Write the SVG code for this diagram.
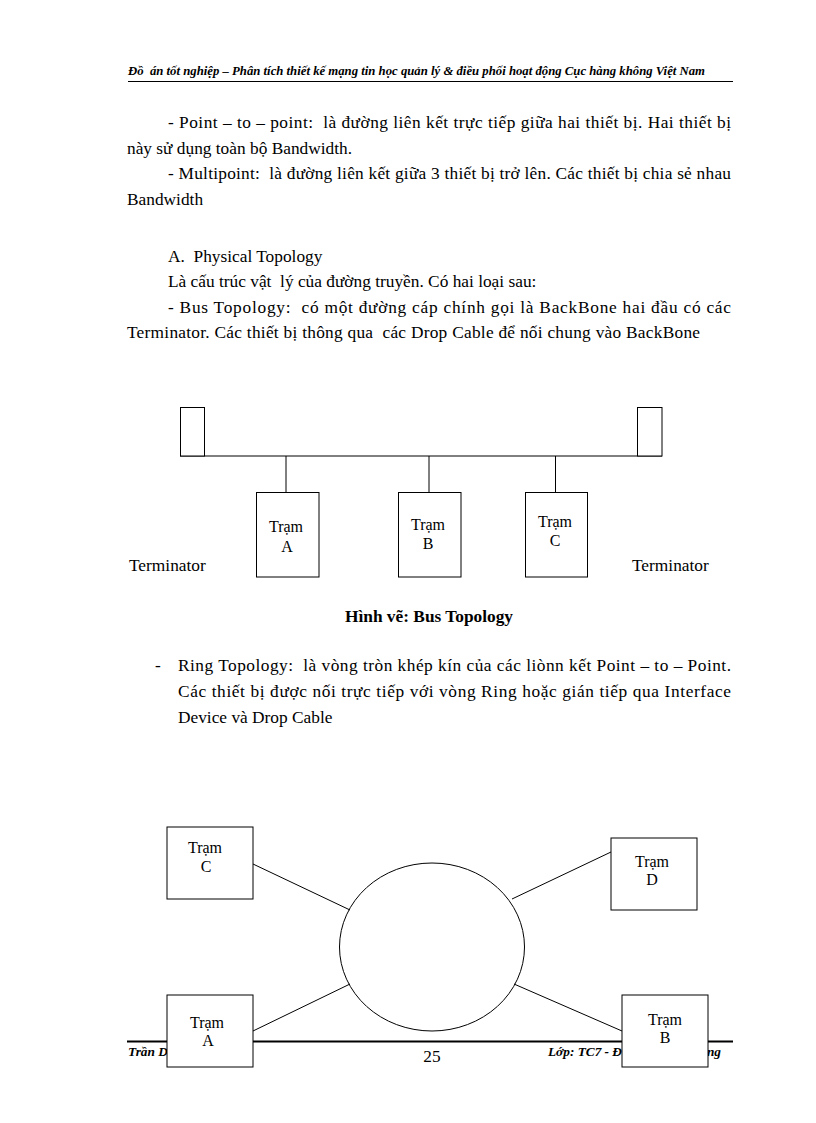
<svg xmlns="http://www.w3.org/2000/svg" width="816" height="1123" viewBox="0 0 816 1123">
<style>
text{font-family:"Liberation Serif","Times New Roman",serif;fill:#000;white-space:pre}
.b{font-size:17.33px}
.hd{font-size:13.3px;font-weight:bold;font-style:italic}
.cap{font-size:17.33px;font-weight:bold}
.lbl{font-size:16px;text-anchor:middle}
.node{fill:#fff;stroke:#000;stroke-width:1}
.ln{stroke:#000;stroke-width:1;fill:none}
</style>
<rect width="816" height="1123" fill="#fff"/>
<g id="header">
<text class="hd" x="128" y="75" textLength="577" lengthAdjust="spacingAndGlyphs">Đồ  án tốt nghiệp – Phân tích thiết kế mạng tin học quản lý &amp; điều phối hoạt động Cục hàng không Việt Nam</text>
<line x1="128" y1="81.5" x2="733" y2="81.5" stroke="#000" stroke-width="1"/>
</g>
<g id="body">
<text class="b" x="168" y="128" textLength="563" lengthAdjust="spacing">- Point – to – point:  là đường liên kết trực tiếp giữa hai thiết bị. Hai thiết bị</text>
<text class="b" x="127" y="154">này sử dụng toàn bộ Bandwidth.</text>
<text class="b" x="168" y="179" textLength="563" lengthAdjust="spacing">- Multipoint:  là đường liên kết giữa 3 thiết bị trở lên. Các thiết bị chia sẻ nhau</text>
<text class="b" x="127" y="205">Bandwidth</text>
<text class="b" x="168" y="262">A.  Physical Topology</text>
<text class="b" x="168" y="287">Là cấu trúc vật  lý của đường truyền. Có hai loại sau:</text>
<text class="b" x="168" y="313" textLength="563" lengthAdjust="spacing">- Bus Topology:  có một đường cáp chính gọi là BackBone hai đầu có các</text>
<text class="b" x="127" y="338" textLength="573" lengthAdjust="spacing">Terminator. Các thiết bị thông qua  các Drop Cable để nối chung vào BackBone</text>
</g>
<g id="bus-connectors">
<line class="ln" x1="180" y1="456" x2="662" y2="456"/>
<line class="ln" x1="286" y1="456" x2="286" y2="492"/>
<line class="ln" x1="429" y1="456" x2="429" y2="492"/>
<line class="ln" x1="555.5" y1="456" x2="555.5" y2="492"/>
</g>
<g id="terminator-left">
<rect class="node" x="180.5" y="407.5" width="24" height="48.5"/>
<text class="b" x="129" y="571">Terminator</text>
</g>
<g id="terminator-right">
<rect class="node" x="637.5" y="407.5" width="24.5" height="48.5"/>
<text class="b" x="632" y="571">Terminator</text>
</g>
<g id="bus-tram-a">
<rect class="node" x="256.5" y="492.5" width="62.5" height="84.5"/>
<text class="lbl" x="286" y="532">Trạm</text>
<text class="lbl" x="287" y="552">A</text>
</g>
<g id="bus-tram-b">
<rect class="node" x="398.5" y="492.5" width="62.5" height="84.5"/>
<text class="lbl" x="428" y="530">Trạm</text>
<text class="lbl" x="428" y="549">B</text>
</g>
<g id="bus-tram-c">
<rect class="node" x="525.5" y="492.5" width="62" height="84.5"/>
<text class="lbl" x="555" y="527">Trạm</text>
<text class="lbl" x="555" y="546">C</text>
</g>
<text class="cap" x="429" y="622" text-anchor="middle">Hình vẽ: Bus Topology</text>
<g id="ring-text">
<text class="b" x="155" y="671">-</text>
<text class="b" x="178" y="671" textLength="553" lengthAdjust="spacing">Ring Topology:  là vòng tròn khép kín của các liònn kết Point – to – Point.</text>
<text class="b" x="178" y="697" textLength="553" lengthAdjust="spacing">Các thiết bị được nối trực tiếp với vòng Ring hoặc gián tiếp qua Interface</text>
<text class="b" x="178" y="723">Device và Drop Cable</text>
</g>
<g id="footer">
<line x1="127" y1="1041.5" x2="733" y2="1041.5" stroke="#000" stroke-width="2"/>
<text class="hd" x="128" y="1056">Trần D</text>
<text class="hd" x="548" y="1056">Lớp: TC7 - Đ</text>
<text class="hd" x="721" y="1056" text-anchor="end">ng</text>
<text class="b" x="432" y="1062" text-anchor="middle">25</text>
</g>
<g id="ring-connectors">
<line class="ln" x1="253" y1="864" x2="350" y2="910"/>
<line class="ln" x1="611" y1="852" x2="512" y2="899"/>
<line class="ln" x1="253" y1="1031" x2="350" y2="984"/>
<line class="ln" x1="514" y1="984" x2="622" y2="1031"/>
</g>
<g id="ring">
<ellipse class="ln" cx="432" cy="947" rx="92.5" ry="84"/>
</g>
<g id="ring-tram-c">
<rect class="node" x="167" y="827" width="86" height="72"/>
<text class="lbl" x="205" y="853">Trạm</text>
<text class="lbl" x="206" y="872">C</text>
</g>
<g id="ring-tram-d">
<rect class="node" x="611" y="838" width="86" height="72"/>
<text class="lbl" x="652" y="867">Trạm</text>
<text class="lbl" x="652" y="885">D</text>
</g>
<g id="ring-tram-a">
<rect class="node" x="167" y="995" width="86" height="72"/>
<text class="lbl" x="207" y="1028">Trạm</text>
<text class="lbl" x="208" y="1046">A</text>
</g>
<g id="ring-tram-b">
<rect class="node" x="622" y="995" width="86" height="72"/>
<text class="lbl" x="665" y="1025">Trạm</text>
<text class="lbl" x="665" y="1043">B</text>
</g>
</svg>
